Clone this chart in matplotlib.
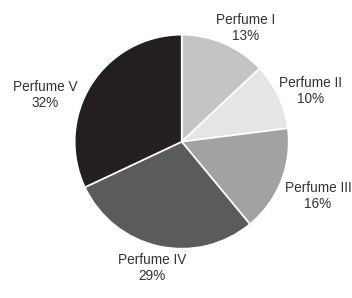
import numpy as np
import matplotlib.pyplot as plt

plt.rcParams['font.family'] = ['Liberation Sans', 'DejaVu Sans']

labels = ['Perfume I', 'Perfume II', 'Perfume III', 'Perfume IV', 'Perfume V']
shares = [13, 10, 16, 29, 32]
colors = ['#c4c4c4', '#e3e5e7', '#a2a2a2', '#5b5a5c', '#231f20']
label_dist = [1.22, 1.29, 1.37, 1.21, 1.35]
label_shift = [-6, -3.7, 0, -0.6, 13.5]   # degrees, nudges label around the rim

fig = plt.figure(figsize=(3.52, 2.98), dpi=100)
ax = fig.add_axes([0, 0, 1, 1])

cx, cy, r = 181.7, 156.3, 107
wedges, _ = ax.pie(shares, colors=colors, startangle=90, counterclock=False,
                   center=(cx, cy), radius=r, frame=True,
                   wedgeprops=dict(edgecolor='white', linewidth=1.2))
ax.set_xlim(0, 352)
ax.set_ylim(0, 298)
ax.set_aspect('equal')
ax.axis('off')

for w, lab, s, d, sh in zip(wedges, labels, shares, label_dist, label_shift):
    mid = np.deg2rad((w.theta1 + w.theta2) / 2 + sh)
    x = cx + d * r * np.cos(mid)
    y = cy + d * r * np.sin(mid)
    ax.text(x, y, f'{lab}\n{s}%', ha='center', va='center', fontsize=9.8,
            color='#333333', linespacing=1.2, clip_on=False)

fig.savefig('out.png', dpi=100)
